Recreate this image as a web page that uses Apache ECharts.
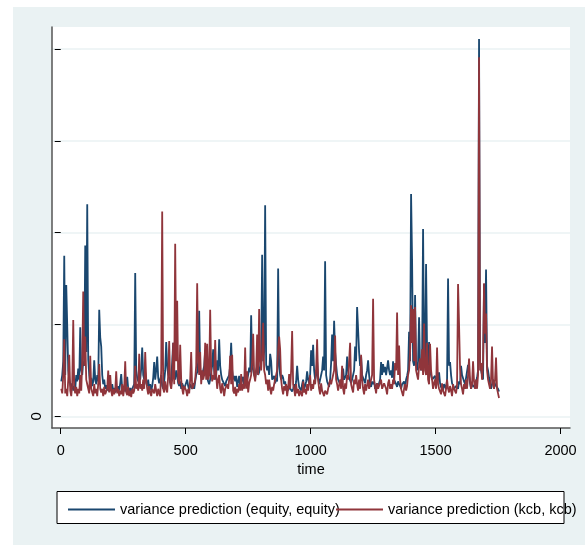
<!DOCTYPE html>
<html>
<head>
<meta charset="utf-8">
<script src="https://cdn.jsdelivr.net/npm/echarts@6/dist/echarts.min.js"></script>
<style>
html,body{margin:0;padding:0;background:#fff;}
#chart{width:585px;height:545px;}
</style>
</head>
<body>
<div id="chart"></div>
<script>
// regular sampling of the time axis (one value every 4 periods)
const timeStart = 2;
const timeStep = 4;
const xTicks = [0, 500, 1000, 1500, 2000];
const yTicks = [0, 1, 2, 3, 4];
const seriesNames = ['variance prediction (equity, equity)', 'variance prediction (kcb, kcb)'];

const equity = [
0.38,0.45,0.60,1.75,0.45,1.43,0.98,0.50,0.40,0.35,
0.30,0.36,0.28,0.33,0.30,0.45,0.38,0.52,0.40,0.97,
0.50,0.45,0.60,0.55,1.86,0.70,2.31,0.62,0.45,0.36,
0.42,0.33,0.38,0.61,0.40,0.35,0.45,0.38,1.16,0.86,
0.76,0.45,0.35,0.40,0.30,0.34,0.28,0.36,0.27,0.32,
0.28,0.35,0.27,0.31,0.26,0.30,0.27,0.33,0.28,0.36,
0.46,0.30,0.28,0.33,0.27,0.35,0.43,0.30,0.27,0.31,
0.26,0.30,0.28,0.35,1.56,0.50,0.42,0.38,0.45,0.40,
0.52,0.75,0.45,0.40,0.48,0.36,0.33,0.40,0.30,0.35,
0.28,0.33,0.42,0.59,0.40,0.50,0.65,0.42,0.36,0.40,
0.45,0.33,0.30,0.38,0.50,0.81,0.55,0.45,0.42,0.36,
0.40,0.59,0.80,0.45,0.40,0.50,0.45,0.36,0.33,0.38,
0.30,0.36,0.33,0.30,0.32,0.28,0.40,0.33,0.29,0.35,
0.34,0.30,0.36,0.30,0.38,0.45,0.48,0.60,1.15,0.50,
0.45,0.40,0.50,0.55,0.72,0.45,0.42,0.38,0.35,0.40,
0.48,0.55,0.73,0.50,0.40,0.45,0.61,0.50,0.84,0.55,
0.45,0.40,0.38,0.42,0.33,0.38,0.36,0.40,0.45,0.55,
0.80,0.50,0.40,0.44,0.38,0.44,0.32,0.38,0.44,0.33,
0.35,0.40,0.43,0.32,0.30,0.36,0.38,0.45,0.53,0.48,
1.10,0.55,0.50,0.45,0.42,0.50,0.55,0.45,0.48,0.55,
0.65,1.76,0.60,0.70,2.30,0.56,0.50,0.55,0.45,0.68,
0.60,0.40,0.38,0.44,0.36,0.42,0.38,1.61,0.55,0.45,
0.40,0.45,0.42,0.35,0.38,0.30,0.33,0.28,0.32,0.30,
0.33,0.27,0.30,0.35,0.30,0.38,0.55,0.40,0.32,0.30,
0.28,0.35,0.40,0.30,0.33,0.38,0.49,0.40,0.36,0.45,
0.72,0.55,0.78,0.50,0.40,0.45,0.60,0.42,0.35,0.40,
0.45,0.50,0.65,0.50,1.69,0.45,0.38,0.35,0.32,0.40,
0.58,0.89,0.60,1.04,0.70,0.56,0.45,0.40,0.38,0.35,
0.40,0.35,0.52,0.40,0.38,0.45,0.65,0.50,0.42,0.40,
0.36,0.40,0.45,0.50,0.76,0.60,1.19,1.18,0.70,0.55,
0.65,0.45,0.42,0.40,0.36,0.45,0.50,0.61,0.45,0.35,
0.32,0.38,0.35,0.38,0.30,0.33,0.36,0.32,0.30,0.40,
0.59,0.45,0.57,0.48,0.54,0.45,0.45,0.61,0.50,0.45,
0.50,0.42,0.60,0.40,0.38,0.35,0.32,0.38,0.36,0.33,
0.30,0.35,0.34,0.38,0.30,0.40,0.44,0.50,0.92,0.60,
2.42,1.71,0.60,0.55,1.32,0.58,0.50,0.60,1.08,0.55,
0.50,0.60,2.04,0.70,0.60,1.66,0.70,0.55,0.81,0.50,
0.45,0.40,0.38,0.42,0.44,0.36,0.35,0.40,0.48,0.36,
0.32,0.30,0.28,0.35,0.33,0.30,0.40,1.50,0.55,0.59,
0.45,0.36,0.33,0.30,0.28,0.33,0.32,0.30,0.38,0.35,
0.55,0.45,0.45,0.38,0.35,0.42,0.40,0.56,0.45,0.36,
0.30,0.35,0.35,0.32,0.30,0.38,0.42,0.50,4.11,0.60,
0.50,0.45,0.40,1.44,0.80,1.60,0.55,0.50,0.42,0.36,
0.30,0.35,0.40,0.42,0.38,0.33,0.32,0.30,0.27
];

const kcb = [
0.30,0.25,0.45,0.84,0.25,0.30,0.22,0.40,0.67,0.28,
0.22,0.35,1.05,0.30,0.25,0.32,0.22,0.30,0.25,0.45,
0.28,0.60,1.36,0.55,0.87,0.40,0.35,0.30,0.25,0.66,
0.30,0.28,0.22,0.35,0.25,0.30,0.22,0.35,0.57,0.30,
0.26,0.30,0.22,0.32,0.24,0.22,0.30,0.50,0.26,0.45,
0.28,0.22,0.30,0.24,0.28,0.49,0.25,0.30,0.22,0.28,
0.24,0.35,0.22,0.30,0.60,0.26,0.23,0.32,0.22,0.28,
0.21,0.30,0.25,0.28,0.55,0.30,0.35,0.28,0.68,0.30,
0.35,0.28,0.40,0.30,0.70,0.40,0.30,0.24,0.33,0.26,
0.22,0.30,0.28,0.25,0.35,0.28,0.22,0.30,0.25,0.22,
0.50,2.23,0.30,0.26,0.38,0.30,0.26,0.45,0.82,0.35,
0.30,0.40,0.80,0.35,1.88,0.60,1.26,0.40,0.35,0.78,
0.40,0.30,0.24,0.33,0.35,0.28,0.22,0.30,0.25,0.40,
0.70,0.30,0.28,0.35,0.40,0.55,1.45,0.60,0.45,0.70,
0.35,0.50,0.40,0.45,0.80,0.40,0.79,0.40,0.45,1.16,
0.50,0.38,0.45,0.40,0.83,0.45,0.30,0.40,0.45,0.30,
0.25,0.36,0.30,0.22,0.30,0.28,0.35,0.30,0.40,0.66,
0.35,0.67,0.28,0.25,0.32,0.22,0.30,0.26,0.35,0.28,
0.46,0.28,0.35,0.30,0.75,0.30,0.49,0.26,0.36,0.40,
0.45,0.60,0.90,0.45,0.38,0.50,0.89,0.45,1.17,0.60,
0.50,0.70,1.02,0.50,0.45,0.35,0.40,0.28,0.40,0.30,
0.24,0.32,0.28,0.35,0.40,0.45,0.50,0.73,0.87,0.73,
0.40,0.30,0.24,0.33,0.28,0.35,0.22,0.30,0.46,0.30,
0.50,0.93,0.35,0.30,0.22,0.35,0.25,0.30,0.22,0.28,
0.30,0.22,0.38,0.26,0.30,0.24,0.35,0.28,0.30,0.45,
0.28,0.35,0.30,0.40,0.35,0.50,0.84,0.40,0.30,0.24,
0.36,0.28,0.30,0.22,0.28,0.30,0.24,0.30,0.35,0.40,
0.35,0.40,0.45,0.50,0.88,0.40,0.35,0.28,0.30,0.40,
0.30,0.55,0.30,0.24,0.36,0.30,0.45,0.40,0.60,0.80,
0.35,0.30,0.26,0.40,0.35,0.45,0.35,0.28,0.40,0.30,
0.67,0.40,0.30,0.24,0.35,0.28,0.26,0.40,0.30,0.35,
0.40,0.45,1.28,0.40,0.32,0.25,0.36,0.30,0.28,0.30,
0.40,0.30,0.28,0.36,0.33,0.30,0.24,0.36,0.40,0.30,
0.35,0.30,0.40,0.35,0.58,0.50,1.13,0.45,0.77,0.40,
0.30,0.28,0.22,0.30,0.35,0.28,0.33,0.45,0.50,0.70,
1.21,0.80,1.17,0.60,1.19,0.50,0.45,0.40,0.55,0.63,
0.50,0.73,0.45,1.01,0.50,0.45,0.80,0.40,0.35,0.79,
0.50,0.40,0.30,0.36,0.40,0.30,0.75,0.35,0.30,0.28,
0.24,0.36,0.28,0.30,0.22,0.30,0.40,0.30,0.26,0.33,
0.28,0.22,0.35,0.30,0.28,0.25,0.35,1.44,1.00,0.52,
0.35,0.30,0.24,0.35,0.30,0.40,0.30,0.45,0.63,0.40,
0.30,0.35,0.60,0.38,0.30,0.40,0.30,0.45,3.91,0.50,
0.58,0.40,0.60,1.45,0.90,1.12,0.50,0.40,0.35,0.30,
0.40,0.76,0.35,0.30,0.40,0.64,0.30,0.25,0.20
];

function pairs(vals){ return vals.map((v,i)=>[timeStart + i*timeStep, v]); }

const FONT = "'Liberation Sans',Arial,sans-serif";
const chart = echarts.init(document.getElementById('chart'));
chart.setOption({
  animation: false,
  backgroundColor: '#ffffff',
  graphic: [
    {type:'rect', z:-10, shape:{x:13,y:7,width:572,height:538}, style:{fill:'#eaf2f3'}},
    {type:'rect', z:-9, shape:{x:52,y:27,width:518,height:401}, style:{fill:'#ffffff'}},
    {type:'rect', z:-9, shape:{x:57,y:491.5,width:507,height:32}, style:{fill:'#ffffff', stroke:'#000', lineWidth:1}}
  ],
  grid: [
    {left:52, right:15, top:27, bottom:117},
    {left:52, right:15, top:49.1, bottom:128.7}
  ],
  xAxis: [
    {gridIndex:0, type:'value', min:-35, max:2038,
     name:'time', nameLocation:'middle', nameGap:31,
     nameTextStyle:{fontFamily:FONT, fontSize:14.5, color:'#000'},
     axisLine:{show:true, onZero:false, lineStyle:{color:'#555', width:1.5}},
     axisTick:{show:true, length:6, customValues:xTicks, lineStyle:{color:'#000', width:1}},
     axisLabel:{show:true, customValues:xTicks, margin:15, fontFamily:FONT, fontSize:14.5, color:'#000',
       formatter: v => String(v)},
     splitLine:{show:false}},
    {gridIndex:1, type:'value', min:-35, max:2038, show:false}
  ],
  yAxis: [
    {gridIndex:0, type:'value', min:-0.127, max:4.24,
     axisLine:{show:true, onZero:false, lineStyle:{color:'#555', width:1.5}},
     axisTick:{show:false}, axisLabel:{show:false}, splitLine:{show:false}},
    {gridIndex:1, type:'value', min:0, max:4, interval:1,
     axisLine:{show:false},
     axisTick:{show:true, length:6, lineStyle:{color:'#000', width:1}},
     axisLabel:{show:true, rotate:90, margin:8, fontFamily:FONT, fontSize:15, color:'#000',
       formatter: v => (v === yTicks[0] ? '0' : '')},
     splitLine:{show:true, lineStyle:{color:'#eaf2f3', width:1.5}}}
  ],
  legend: [
    {left:63, top:497, itemWidth:47, itemHeight:2, icon:'rect', data:[seriesNames[0]],
     textStyle:{fontFamily:FONT, fontSize:14.5, color:'#000'}},
    {left:331, top:497, itemWidth:47, itemHeight:2, icon:'rect', data:[seriesNames[1]],
     textStyle:{fontFamily:FONT, fontSize:14.5, color:'#000'}}
  ],
  series: [
    {name:seriesNames[0], type:'line', xAxisIndex:0, yAxisIndex:0, data:pairs(equity),
     symbol:'none', lineStyle:{color:'#1a476f', width:1.8}, itemStyle:{color:'#1a476f'}},
    {name:seriesNames[1], type:'line', xAxisIndex:0, yAxisIndex:0, data:pairs(kcb),
     symbol:'none', lineStyle:{color:'#90353b', width:1.8}, itemStyle:{color:'#90353b'}}
  ]
});
</script>
</body>
</html>
